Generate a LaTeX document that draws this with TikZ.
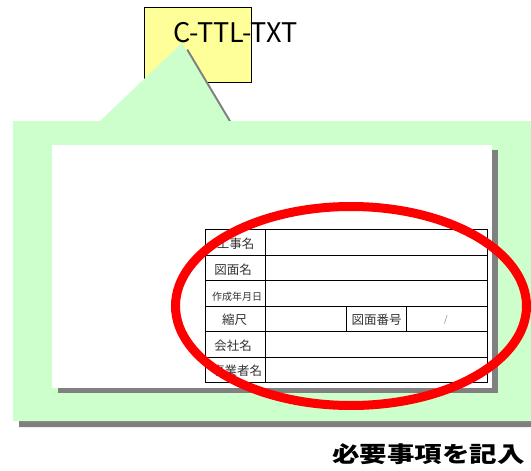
\documentclass[tikz,border=0pt]{standalone}
\usepackage{fontspec}
\newfontfamily\jp{Noto Sans CJK JP}
\definecolor{callgreen}{HTML}{CCFFCC}
\definecolor{noteyellow}{HTML}{FFFF99}
\definecolor{shadowgray}{HTML}{808080}
\tikzset{
  celllabel/.style={font=\jp\fontsize{12.5}{14}\selectfont, text=black!80, inner sep=0},
  gridline/.style={draw=black, line width=0.9pt},
}
\begin{document}
\begin{tikzpicture}[x=1pt,y=-1pt]
\useasboundingbox (0,0) rectangle (531,471);
% yellow note box
\node[draw=black, line width=1.3pt, fill=noteyellow, minimum width=107pt, minimum height=75pt, anchor=north west, inner sep=0] (ybox) at (144,7) {};
% callout shadow
\begin{scope}[shift={(6,6)}]
\fill[shadowgray] (13,121) -- (100,121) -- (182,43) -- (228.6,121) -- (545,121) -- (545,421) -- (13,421) -- cycle;
\end{scope}
% callout
\fill[callgreen] (13,121) -- (100,121) -- (182,43) -- (228.6,121) -- (545,121) -- (545,421) -- (13,421) -- cycle;
% title text
\node[font=\jp\fontsize{27}{30}\selectfont, anchor=base west, inner sep=0] (ttl) at (173,42) {C-TTL-TXT};
% paper
\fill[shadowgray] (57.5,150) rectangle (497.5,393);
\fill[white] (52,145) rectangle (492,388);
% table
\draw[gridline] (205.7,229.3) rectangle (487.3,382.7);
\foreach \y in {255,280.7,306.3,331.7,357} \draw[gridline] (205.7,\y) -- (487.3,\y);
\draw[gridline] (265.7,229.3) -- (265.7,382.7);
\draw[gridline] (346.7,306.3) -- (346.7,331.7);
\draw[gridline] (406.7,306.3) -- (406.7,331.7);
\node[celllabel] (l1) at (235.7,243.5) {工事名};
\node[celllabel] (l2) at (233,269.3) {図面名};
\node[celllabel, font=\jp\fontsize{10}{12}\selectfont] (l3) at (237,296.5) {作成年月日};
\node[celllabel] (l4) at (234.5,320) {縮尺};
\node[celllabel] (l5) at (376.7,320) {図面番号};
\node[celllabel, font=\jp\fontsize{9}{10}\selectfont, text=black!50] (l6) at (446,319.5) {/};
\node[celllabel] (l7) at (233,345.5) {会社名};
\node[celllabel] (l8) at (237,371) {事業者名};
% red ellipse
\draw[red, line width=9pt] (351,306) ellipse [x radius=175.5pt, y radius=99.5pt];
% note text
\node[font=\jp\bfseries\fontsize{22}{24}\selectfont, inner sep=0] (note) at (428.5,454) {\scalebox{1.25}[1]{必要事項を記入}};
\end{tikzpicture}
\end{document}
